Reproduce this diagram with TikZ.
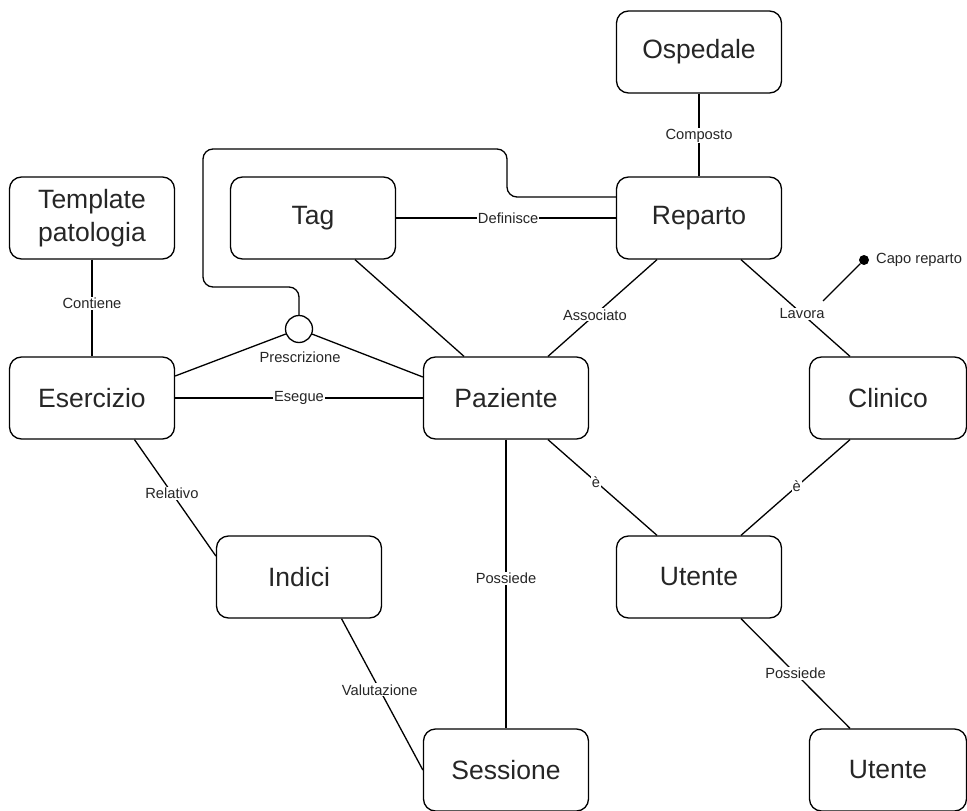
\documentclass[tikz,border=0pt]{standalone}
\usepackage{fontspec}
\setmainfont{Liberation Sans}
\usetikzlibrary{calc}
\begin{document}
\begin{tikzpicture}[x=1pt,y=-1pt,
  ent/.style={draw, rounded corners=12pt, line width=1.3pt, minimum width=165pt, minimum height=82pt, inner sep=0pt, text=black!85, font=\fontsize{26.5}{33}\selectfont, align=center},
  lbl/.style={fill=white, inner sep=1pt, text=black!85, font=\fontsize{14.7}{17}\selectfont},
  conn/.style={line width=1.3pt}]
\useasboundingbox (0,0) rectangle (967,811);
% entities
\node[ent] (osp) at (699,52) {Ospedale};
\node[ent] (rep) at (699,218) {Reparto};
\node[ent] (tmp) at (92,218) {Template\\patologia};
\node[ent] (tag) at (313,218) {Tag};
\node[ent] (ese) at (92,398) {Esercizio};
\node[ent] (pat) at (506,398) {Paziente};
\node[ent, minimum width=157pt] (cli) at (888,398) {Clinico};
\node[ent] (ind) at (299,577) {Indici};
\node[ent] (ut1) at (699,577) {Utente};
\node[ent] (ses) at (506,770) {Sessione};
\node[ent, minimum width=157pt] (ut2) at (888,770) {Utente};
% relationship circle
\node[draw, circle, line width=1.3pt, minimum size=27pt, inner sep=0pt] (circ) at (299,329) {};
\node[lbl] (presc) at (300,357) {Prescrizione};
% connectors
\draw[conn] (osp) -- node[lbl, pos=0.51] {Composto} (rep);
\draw[conn] (tmp) -- node[lbl, pos=0.45] {Contiene} (ese);
\draw[conn] (tag) -- node[lbl, pos=0.51] {Definisce} (rep);
\draw[conn] ($(rep.south)+(-42,0)$) -- node[lbl, pos=0.57] {Associato} ($(pat.north)+(42,0)$);
\draw[conn] ($(rep.south)+(42,0)$) -- node[lbl, pos=0.56] {Lavora} ($(cli.north)+(-38,0)$);
\draw[conn] ($(tag.south)+(42,0)$) -- ($(pat.north)+(-42,0)$);
\draw[conn] ($(ese.east)+(0,-22)$) -- (circ);
\draw[conn] (circ) -- ($(pat.west)+(0,-21)$);
\draw[conn] (ese) -- node[lbl, pos=0.5] {Esegue} (pat);
\draw[conn] ($(ese.south)+(42.5,0)$) -- node[lbl, pos=0.46] {Relativo} ($(ind.west)+(0,-21)$);
\draw[conn] ($(ind.south)+(42.5,0)$) -- node[lbl, pos=0.47] {Valutazione} (ses.west);
\draw[conn] (pat) -- node[lbl, pos=0.48] {Possiede} (ses);
\draw[conn] ($(pat.south)+(42,0)$) -- node[lbl, pos=0.44] {è} ($(ut1.north)+(-42,0)$);
\draw[conn] ($(cli.south)+(-38,0)$) -- node[lbl, pos=0.49] {è} ($(ut1.north)+(42,0)$);
\draw[conn] ($(ut1.south)+(42,0)$) -- node[lbl, pos=0.5] {Possiede} ($(ut2.north)+(-38,0)$);
% loop from Reparto to the Prescrizione circle
\coordinate (w1) at (507,149);
\coordinate (w2) at (203,287);
\draw[conn, rounded corners=10pt] ($(rep.west)+(0,-21)$) -| (w1) -| (w2) -| (circ.north);
% Capo reparto attribute
\node[circle, fill=black, inner sep=0pt, minimum size=10pt] (capo) at (864,260) {};
\node[lbl, anchor=west] (capot) at (875,260) {Capo reparto};
\coordinate (capoend) at (823,301);
\draw[conn] (capo) -- (capoend);
\end{tikzpicture}
\end{document}
